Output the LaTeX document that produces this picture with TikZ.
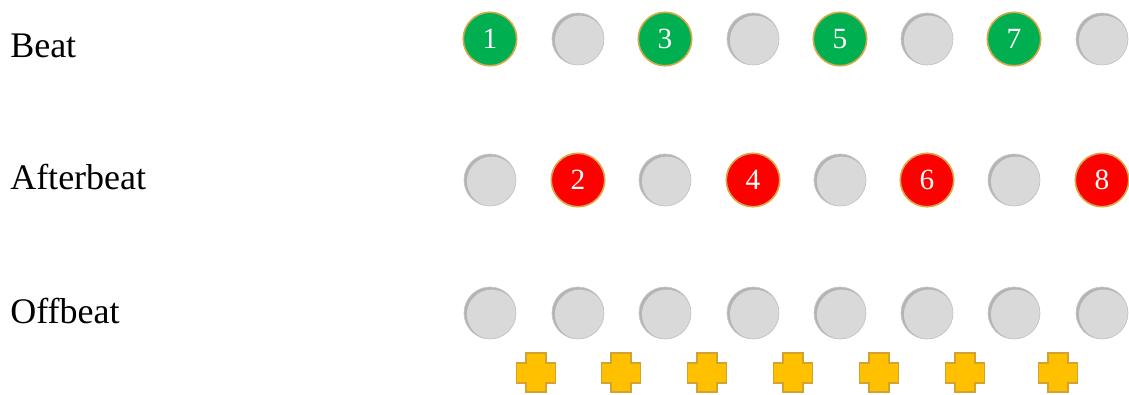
\documentclass[tikz,border=0pt]{standalone}
\usepackage{fontspec}
\setmainfont{Liberation Serif}
\definecolor{beatgreen}{HTML}{00B050}
\definecolor{afterred}{HTML}{FF0000}
\definecolor{offgray}{HTML}{D9D9D9}
\definecolor{restshade}{HTML}{B4B4B4}
\definecolor{rimgold}{HTML}{D6A94A}
\definecolor{plusgold}{HTML}{FFC000}
\definecolor{plusrim}{HTML}{D4A22E}
\begin{document}
\begin{tikzpicture}[x=0.75pt,y=-0.75pt]
  \tikzstyle{rowlabel}=[anchor=base west, inner sep=0pt, font=\fontsize{27}{30}\selectfont]
  \tikzstyle{hit}=[circle, minimum size=53.5pt*0.75, inner sep=0pt, draw=rimgold, line width=1.2pt,
    text=white, font=\fontsize{22}{24}\selectfont]
  \tikzstyle{rest}=[circle, minimum size=52pt*0.75, inner sep=0pt, draw=gray!45, line width=0.5pt,
    fill=restshade, path picture={\fill[offgray] ([shift={(1.3pt,-1.0pt)}]path picture bounding box.center) circle (18.6pt);}]
  \useasboundingbox (0,0) rectangle (1129,394);

  \node[rowlabel] (beat) at (10,57) {Beat};
  \node[rowlabel] (afterbeat) at (10,189) {Afterbeat};
  \node[rowlabel] (offbeat) at (10,323) {Offbeat};

  % beat row: odd counts green
  \foreach \i/\x in {1/490,2/578,3/665,4/753,5/840,6/927,7/1014,8/1102}{
    \ifodd\i
      \node[hit, fill=beatgreen] (b\i) at (\x,39) {\i};
    \else
      \node[rest] (b\i) at (\x,39) {};
    \fi
  }
  % afterbeat row: even counts red
  \foreach \i/\x in {1/490,2/578,3/665,4/753,5/840,6/927,7/1014,8/1102}{
    \ifodd\i
      \node[rest] (a\i) at (\x,180) {};
    \else
      \node[hit, fill=afterred] (a\i) at (\x,180) {\i};
    \fi
  }
  % offbeat row: all rests
  \foreach \i/\x in {1/490,2/578,3/665,4/753,5/840,6/927,7/1014,8/1102}{
    \node[rest] (o\i) at (\x,313) {};
  }
  % plus marks between the counts
  \foreach \i/\x in {1/536,2/621,3/707,4/793,5/879,6/965,7/1058}{
    \coordinate (p\i) at (\x,373);
    \filldraw[fill=plusgold, draw=plusrim, line width=0.9pt]
      (\x-10,353) -- (\x+10,353) -- (\x+10,363) -- (\x+19.5,363) -- (\x+19.5,383)
      -- (\x+10,383) -- (\x+10,392) -- (\x-10,392) -- (\x-10,383) -- (\x-19.5,383)
      -- (\x-19.5,363) -- (\x-10,363) -- cycle;
  }
\end{tikzpicture}
\end{document}
